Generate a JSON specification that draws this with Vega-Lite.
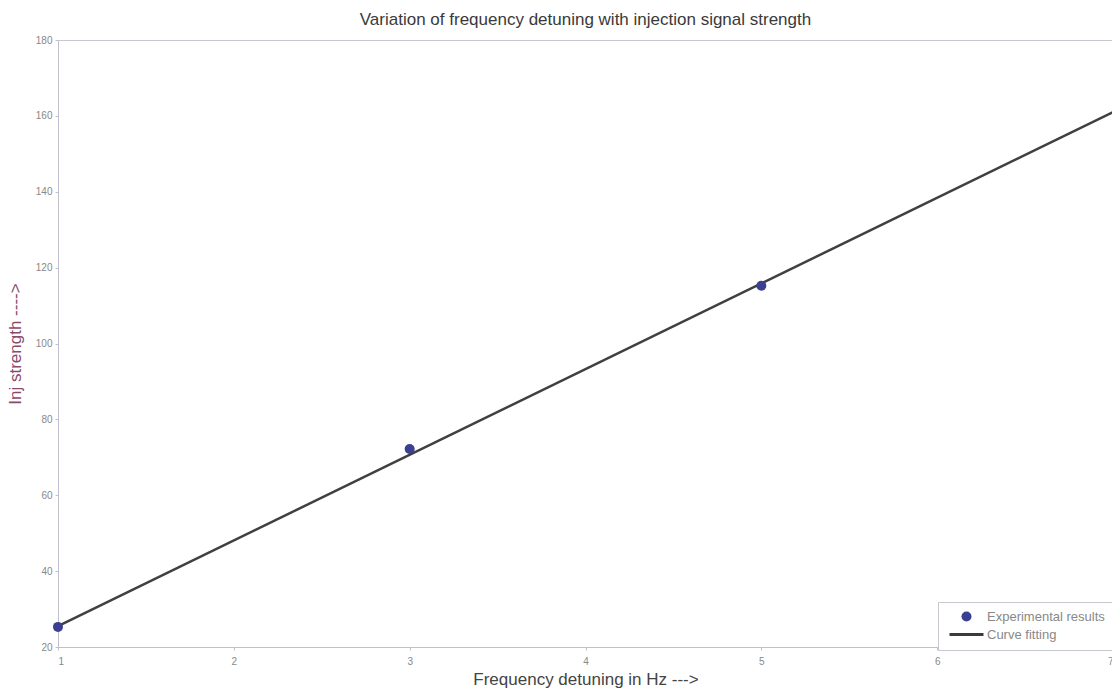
{
  "$schema": "https://vega.github.io/schema/vega-lite/v6.json",
  "width": 1055,
  "height": 607,
  "autosize": {"type": "none"},
  "padding": {"left": 58, "top": 40, "right": 0, "bottom": 52},
  "background": "#ffffff",
  "title": {
    "text": "Variation of frequency detuning with injection signal strength",
    "fontSize": 17,
    "font": "Liberation Sans",
    "fontWeight": "normal",
    "color": "#3a3a3a",
    "anchor": "middle",
    "offset": 6
  },
  "config": {
    "font": "Liberation Sans",
    "view": {"stroke": "#c8c8d0", "strokeWidth": 1},
    "axis": {
      "grid": false,
      "domainColor": "#c0c0cc",
      "tickColor": "#c0c0cc",
      "tickSize": 3,
      "labelFontSize": 10,
      "labelColor": "#888888",
      "titleFont": "Liberation Sans",
      "titleFontWeight": "normal",
      "titleFontSize": 17
    }
  },
  "layer": [
    {
      "data": {"values": [
        {"x": 1, "y": 25.5},
        {"x": 7, "y": 161}
      ]},
      "mark": {"type": "line", "color": "#404040", "strokeWidth": 2.5},
      "encoding": {
        "x": {
          "field": "x", "type": "quantitative",
          "scale": {"domain": [1, 7], "nice": false},
          "axis": {"values": [1, 2, 3, 4, 5, 6, 7], "format": "d", "title": "Frequency detuning in Hz --->", "titleColor": "#444444", "titlePadding": 5, "labelPadding": 6}
        },
        "y": {
          "field": "y", "type": "quantitative",
          "scale": {"domain": [20, 180], "nice": false},
          "axis": {"values": [20, 40, 60, 80, 100, 120, 140, 160, 180], "format": "d", "title": "Inj  strength ---->", "titleColor": "#8a4a6a", "titlePadding": 11, "labelPadding": 3}
        }
      }
    },
    {
      "data": {"values": [
        {"x": 1, "y": 25.3, "series": "Experimental results"},
        {"x": 3, "y": 72.2, "series": "Experimental results"},
        {"x": 5, "y": 115.2, "series": "Experimental results"}
      ]},
      "mark": {"type": "point", "filled": true, "size": 100, "opacity": 1},
      "encoding": {
        "x": {"field": "x", "type": "quantitative"},
        "y": {"field": "y", "type": "quantitative"},
        "color": {
          "field": "series", "type": "nominal",
          "scale": {"domain": ["Experimental results", "Curve fitting"], "range": ["#3b3f8f", "#3a3a3a"]},
          "legend": {
            "title": null,
            "orient": "none",
            "legendX": 880,
            "legendY": 562,
            "padding": 8,
            "symbolOffset": 14,
            "strokeColor": "#c8c8d0",
            "fillColor": "#ffffff",
            "labelFontSize": 13,
            "labelColor": "#888888",
            "labelOffset": 14,
            "symbolSize": 100,
            "rowPadding": 4
          }
        },
        "shape": {
          "field": "series", "type": "nominal",
          "scale": {"domain": ["Experimental results", "Curve fitting"], "range": ["circle", "M-3.4,-0.28L3.4,-0.28L3.4,0.28L-3.4,0.28Z"]},
          "legend": {
            "title": null,
            "orient": "none",
            "legendX": 880,
            "legendY": 562,
            "padding": 8,
            "symbolOffset": 14,
            "strokeColor": "#c8c8d0",
            "fillColor": "#ffffff",
            "labelFontSize": 13,
            "labelColor": "#888888",
            "labelOffset": 14,
            "symbolSize": 100,
            "rowPadding": 4
          }
        }
      }
    }
  ]
}
